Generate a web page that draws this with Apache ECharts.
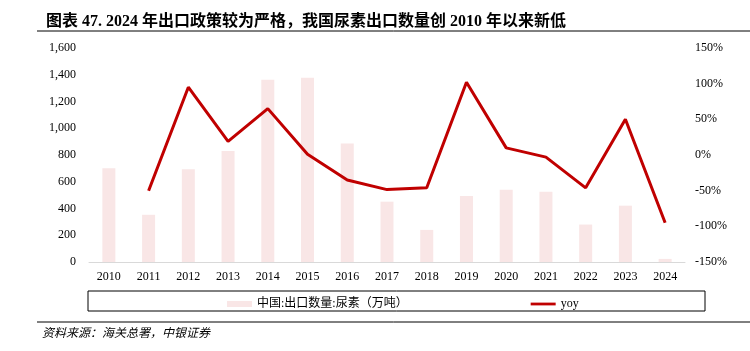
<!DOCTYPE html>
<html lang="zh">
<head>
    <meta charset="utf-8">
    <title>尿素出口数量</title>
    <script src="https://cdn.jsdelivr.net/npm/echarts@6/dist/echarts.min.js"></script>
    <style>
        html, body { margin: 0; padding: 0; background: #fff; }
        #main { width: 750px; height: 351px; }
    </style>
</head>
<body>
<div id="main"></div>
<script>
    // 年份
    var years = ['2010', '2011', '2012', '2013', '2014', '2015', '2016', '2017',
        '2018', '2019', '2020', '2021', '2022', '2023', '2024'];
    // 中国:出口数量:尿素（万吨）
    var exportQty = [701, 353, 693, 829, 1362, 1377, 886, 451, 240, 494, 541, 526, 280, 421, 23];
    // yoy (%)
    var yoy = [null, -50, 95, 19, 65, 1, -35, -48.5, -46, 102, 10, -3, -46, 50, -95];

    var serif = '"Liberation Serif", "Noto Sans CJK SC", serif';
    var cjk = '"Liberation Serif", "Noto Sans CJK SC", sans-serif';

    var myChart = echarts.init(document.getElementById('main'));

    var option = {
        backgroundColor: '#fff',
        animation: false,
        title: {
            text: '图表 47. 2024 年出口政策较为严格，我国尿素出口数量创 2010 年以来新低',
            left: 41,
            top: 9,
            textStyle: {fontFamily: cjk, fontSize: 16, fontWeight: 'bold', color: '#000'}
        },
        grid: {left: 89, right: 65, top: 48, bottom: 89},
        legend: {
            left: 222,
            top: 293,
            itemGap: 123,
            itemWidth: 25,
            itemHeight: 7,
            textStyle: {fontFamily: cjk, fontSize: 12, color: '#000'},
            data: [
                {name: '中国:出口数量:尿素（万吨）', icon: 'path://M0,0L25,0L25,6L0,6Z'},
                {name: 'yoy', icon: 'path://M0,0L27,0L27,3L0,3Z'}
            ]
        },
        xAxis: {
            type: 'category',
            data: years,
            axisLine: {lineStyle: {color: '#d9d9d9', width: 1}},
            axisTick: {show: false},
            axisLabel: {fontFamily: serif, fontSize: 12, color: '#000', margin: 9}
        },
        yAxis: [
            {
                type: 'value',
                min: 0, max: 1600, interval: 200,
                splitLine: {show: false},
                axisLabel: {
                    fontFamily: serif, fontSize: 12, color: '#000', margin: 13,
                    formatter: function (v) { return v.toLocaleString('en-US'); }
                }
            },
            {
                type: 'value',
                min: -150, max: 150, interval: 50,
                splitLine: {show: false},
                axisLabel: {
                    fontFamily: serif, fontSize: 12, color: '#000', margin: 10,
                    formatter: '{value}%'
                }
            }
        ],
        series: [
            {
                name: '中国:出口数量:尿素（万吨）',
                type: 'bar',
                data: exportQty,
                barWidth: 13,
                itemStyle: {color: '#f9e6e6'}
            },
            {
                name: 'yoy',
                type: 'line',
                yAxisIndex: 1,
                data: yoy,
                symbol: 'none',
                lineStyle: {color: '#c00000', width: 3},
                itemStyle: {color: '#c00000'}
            }
        ],
        graphic: [
            // 标题下划线
            {type: 'line', shape: {x1: 37, y1: 31, x2: 750, y2: 31}, style: {stroke: '#000', lineWidth: 1}},
            // 图例边框
            {type: 'rect', shape: {x: 88, y: 291, width: 617, height: 20}, style: {fill: 'none', stroke: '#000', lineWidth: 1}},
            // 来源上方横线
            {type: 'line', shape: {x1: 37, y1: 322, x2: 750, y2: 322}, style: {stroke: '#000', lineWidth: 1}},
            {
                type: 'text', left: 42, top: 326,
                style: {text: '资料来源：海关总署，中银证券', font: 'italic 12px "Noto Sans CJK SC"', fill: '#000'}
            }
        ]
    };

    myChart.setOption(option);
</script>
</body>
</html>
